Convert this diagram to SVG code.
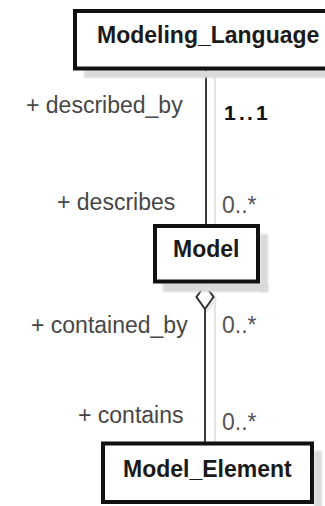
<svg xmlns="http://www.w3.org/2000/svg" width="325" height="506" viewBox="0 0 325 506">
  <style>
    .box { fill: #ffffff; stroke: #111111; stroke-width: 4; }
    .shadow { fill: #d9d9d9; filter: url(#blur); }
    .name { font-family: "Liberation Sans", Arial, sans-serif; font-weight: bold; font-size: 23px; fill: #1a1a1a; }
    .role { font-family: "Liberation Sans", Arial, sans-serif; font-size: 23px; fill: #474747; }
    .mult { font-family: "Liberation Sans", Arial, sans-serif; font-size: 23px; fill: #555555; }
    .multb { font-family: "Liberation Sans", Arial, sans-serif; font-weight: bold; font-size: 21px; fill: #111111; }
    .line { stroke: #3a3a3a; stroke-width: 2; fill: none; }
    .lineshadow { stroke: #e4e4e4; stroke-width: 2; fill: none; }
  </style>
  <defs>
    <filter id="blur" x="-10%" y="-10%" width="120%" height="120%">
      <feGaussianBlur stdDeviation="1"/>
    </filter>
  </defs>
  <rect width="325" height="506" fill="#ffffff"/>

  <g id="connectors">
    <line class="lineshadow" x1="215" y1="72" x2="215" y2="226"/>
    <line class="lineshadow" x1="215" y1="300" x2="215" y2="443"/>
    <polygon points="207,287 216,299 207,311 198,299" fill="none" stroke="#e4e4e4" stroke-width="2"/>
    <line class="line" x1="206" y1="70" x2="206" y2="225"/>
    <polygon points="205,285 213.5,297 205,309 196.5,297" fill="#ffffff" stroke="#333333" stroke-width="2"/>
    <line class="line" x1="205" y1="309" x2="205" y2="442"/>
    <text class="role" x="26" y="113">+ described_by</text>
    <text class="multb" x="224 239 247 256" y="120">1..1</text>
    <text class="role" x="57" y="210">+ describes</text>
    <text class="mult" x="222" y="213">0..*</text>
    <text class="role" x="31" y="333">+ contained_by</text>
    <text class="mult" x="222" y="333">0..*</text>
    <text class="role" x="78" y="423">+ contains</text>
    <text class="mult" x="222" y="430">0..*</text>
  </g>

  <g id="Modeling_Language">
    <rect class="shadow" x="84" y="70" width="250" height="8"/>
    <rect class="box" x="75" y="11" width="260" height="57.5"/>
    <text class="name" x="97" y="43">Modeling_Language</text>
  </g>

  <g id="Model">
    <rect class="shadow" x="260" y="234" width="8" height="58"/>
    <rect class="shadow" x="163" y="283" width="105" height="9"/>
    <rect class="box" x="155" y="226" width="103" height="55.5"/>
    <text class="name" x="173" y="257">Model</text>
  </g>

  <g id="Model_Element">
    <rect class="shadow" x="314" y="451" width="8" height="60"/>
    <rect class="box" x="103" y="443.5" width="209" height="58.5"/>
    <text class="name" x="123" y="477">Model_Element</text>
  </g>
</svg>
